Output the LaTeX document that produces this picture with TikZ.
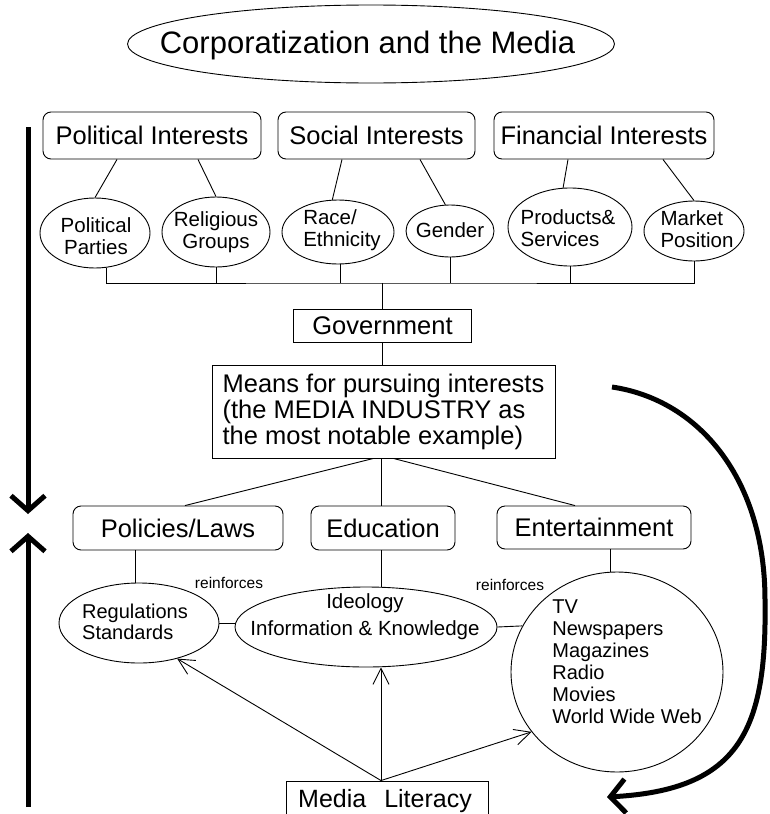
\documentclass[tikz,border=0pt]{standalone}
\usepackage{fontspec}
\setmainfont{Liberation Sans}
\usetikzlibrary{shapes.geometric,arrows.meta,calc}
\begin{document}
\begin{tikzpicture}[x=1pt,y=-1pt,
  link/.style={line width=0.9pt},
  rbox/.style={draw, line width=0.9pt, rounded corners=8pt, inner sep=0pt, font=\fontsize{25.5}{27}\selectfont},
  sbox/.style={draw, line width=0.9pt, inner sep=0pt, font=\fontsize{25.5}{26}\selectfont},
  ell/.style={draw, ellipse, line width=0.9pt, inner sep=0pt},
  etxt/.style={inner sep=0pt, align=center, font=\fontsize{20.5}{22}\selectfont},
  ltxt/.style={inner sep=0pt, align=left, font=\fontsize{20.5}{22}\selectfont},
  smalltxt/.style={inner sep=0pt, font=\fontsize{15.5}{17}\selectfont},
  litarrow/.style={line width=0.9pt, -{Straight Barb[length=16pt,width=16pt]}},
  bigarrow/.style={line width=5pt, -{Straight Barb[length=15pt,width=34pt]}}
]
\useasboundingbox (0,0) rectangle (769,814);

% title
\node[ell, minimum width=487pt, minimum height=78pt] (title) at (371,44) {};
\node[inner sep=0pt, font=\fontsize{31}{33}\selectfont] (titletxt) at (367.5,45) {Corporatization and the Media};

% interest boxes
\node[rbox, minimum width=218pt, minimum height=47pt] (polI) at (152,135.5) {Political Interests};
\node[rbox, minimum width=197pt, minimum height=47pt] (socI) at (376.5,135.5) {Social Interests};
\node[rbox, minimum width=220pt, minimum height=47pt] (finI) at (604,135.5) {Financial Interests};

% interest ellipses
\node[ell, minimum width=110pt, minimum height=70pt] (pp) at (95,233) {};
\node[etxt] (ppt) at (96,236) {Political\\Parties};
\node[ell, minimum width=108pt, minimum height=70pt] (rg) at (216,232) {};
\node[etxt] (rgt) at (216,232) {Religious\\Groups};
\node[ell, minimum width=112pt, minimum height=64pt] (re) at (338,232) {};
\node[ltxt] (ret) at (342,230) {Race/\\Ethnicity};
\node[ell, minimum width=88pt, minimum height=52pt] (gen) at (450,231) {};
\node[etxt] (gent) at (450,230) {Gender};
\node[ell, minimum width=124pt, minimum height=78pt] (ps) at (570,227) {};
\node[ltxt] (pst) at (568,228) {Products\&\\Services};
\node[ell, minimum width=100pt, minimum height=60pt] (mp) at (694,231) {};
\node[ltxt] (mpt) at (697,229) {Market\\Position};

% government and means
\node[sbox, minimum width=178pt, minimum height=33pt] (gov) at (382.5,326) {Government};
\node[sbox, minimum width=343pt, minimum height=93pt, align=left] (means) at (383.5,411.5)
  {Means for pursuing interests\\(the MEDIA INDUSTRY as\\the most notable example)};

% lower boxes
\node[rbox, minimum width=210pt, minimum height=44pt] (pol) at (178,528) {Policies/Laws};
\node[rbox, minimum width=144pt, minimum height=44pt] (edu) at (383,528) {Education};
\node[rbox, minimum width=194pt, minimum height=43pt] (ent) at (594,527.5) {Entertainment};

% lower ellipses
\node[ell, minimum width=160pt, minimum height=80pt] (reg) at (139,623) {};
\node[ltxt, font=\fontsize{20}{21.5}\selectfont] (regt) at (135,622) {Regulations\\Standards};
\node[ell, minimum width=262pt, minimum height=80pt] (ideo) at (366,627) {};
\node[etxt, font=\fontsize{20.5}{27}\selectfont] (ideot) at (365,617) {Ideology\\Information \& Knowledge};
\node[ell, minimum width=212pt, minimum height=200pt] (tv) at (617,672) {};
\node[ltxt, font=\fontsize{20}{22}\selectfont] (tvt) at (627,662)
  {TV\\Newspapers\\Magazines\\Radio\\Movies\\World Wide Web};

\node[smalltxt] (rf1) at (229,583) {reinforces};
\node[smalltxt] (rf2) at (510,585) {reinforces};

% media literacy
\node[sbox, minimum width=202pt, minimum height=60pt] (ml) at (387,811) {};
\node[anchor=base west, inner sep=0pt, font=\fontsize{25}{27}\selectfont] (mlt) at (298,807) {Media\hspace{18pt}Literacy};

% connectors top
\draw[link] ([xshift=-35pt]polI.south) -- (pp.north);
\draw[link] ([xshift=46pt]polI.south) -- (rg.north);
\draw[link] ([xshift=-34.5pt]socI.south) -- (re.100);
\draw[link] ([xshift=43.5pt]socI.south) -- (gen.100);
\draw[link] ([xshift=-36pt]finI.south) -- (ps.100);
\draw[link] ([xshift=59pt]finI.south) -- (mp.north);

\coordinate (bus) at (382.5,283);
\draw[link] ([xshift=11pt]pp.south) |- (bus) -| (mp.south);
\draw[link] (rg.south) -- (rg.south |- bus);
\draw[link] ([xshift=2pt]re.south) -- ([xshift=2pt]re.south |- bus);
\draw[link] (gen.south) -- (gen.south |- bus);
\draw[link] (ps.south) -- (ps.south |- bus);
\draw[link] (bus) -- (gov.north);
\draw[link] (gov.south) -- (gov.south |- means.north);

\draw[link] ([xshift=-10pt]means.south) -- ([xshift=7pt]pol.north);
\draw[link] ([xshift=-2pt]means.south) -- ([xshift=-2pt]means.south |- edu.north);
\draw[link] ([xshift=10pt]means.south) -- ([xshift=-19pt]ent.north);

\draw[link] ([xshift=-43pt]pol.south) -- ([xshift=-43pt]pol.south |- reg.north);
\draw[link] ([xshift=-2pt]edu.south) -- ([xshift=-2pt]edu.south |- ideo.north);
\draw[link] ([xshift=16pt]ent.south) -- ([xshift=16pt]ent.south |- tv.north);
\draw[link] (reg.east) -- (reg.east -| ideo.west);
\draw[link] (ideo.east) -- (tv.154);

% media literacy arrows
\coordinate (mls) at ([xshift=-6pt]ml.north);
\draw[litarrow] (mls) -- (reg.-43);
\draw[litarrow] (mls) -- (mls |- ideo.south);
\draw[litarrow] (mls) -- (tv.215);

% left arrows
\coordinate (d1) at (28,127);
\coordinate (d2) at (28,514);
\coordinate (u1) at (28,807);
\coordinate (u2) at (28,533);
\draw[bigarrow] (d1) -- (d2);
\draw[bigarrow] (u1) -- (u2);

% right arc
\coordinate (a1) at (612,387);
\coordinate (a2) at (765,600);
\coordinate (a3) at (607,797);
\draw[bigarrow] (a1) .. controls (700,400) and (765,480) .. (a2) .. controls (767,730) and (740,790) .. (a3);
\end{tikzpicture}
\end{document}
